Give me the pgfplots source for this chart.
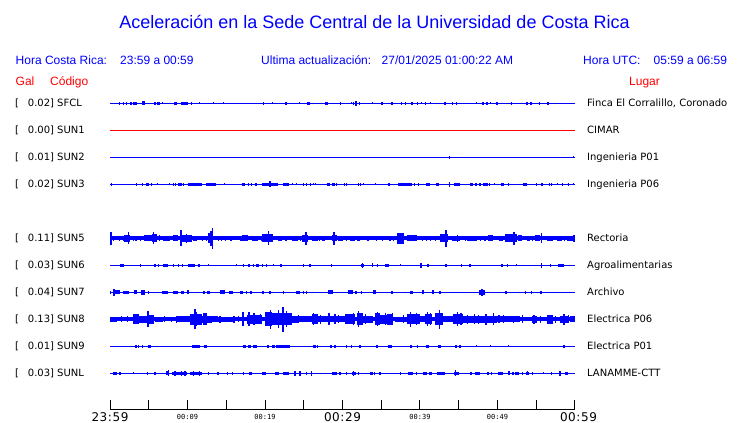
\documentclass[border=0pt]{standalone}
\usepackage{pgfplots}
\pgfplotsset{compat=1.18}
\usepackage{pgfplotstable}
\usepackage{fontspec}
\setmainfont{Liberation Sans}
\newfontfamily\dv{DejaVu Sans}
\newfontfamily\dvls[LetterSpace=5]{DejaVu Sans}
\newfontfamily\dvm{DejaVu Sans Mono}
\definecolor{tblue}{RGB}{0,0,255}
\definecolor{tred}{RGB}{255,0,0}

\pgfdeclareplotmark{fillsq}{%
  \pgfpathrectangle{\pgfpoint{-\pgfplotmarksize}{-\pgfplotmarksize}}{\pgfpoint{2\pgfplotmarksize}{2\pgfplotmarksize}}%
  \pgfusepathqfill}

% bursts: t = minutes after 23:59, w = half width (px), a = half amplitude (px)
\pgfplotstableread{
t w a
1.25 0.6 1.3
1.77 0.6 1.3
2.10 0.6 1.3
2.71 0.6 1.5
3.10 1.5 1.7
3.45 0.6 1.3
4.30 1.2 1.8
5.81 0.8 1.7
6.15 0.6 1.3
6.36 1.0 1.5
6.75 0.6 1.0
8.48 1.5 1.7
9.33 1.2 1.7
9.68 1.0 1.7
9.90 0.8 1.5
10.54 0.6 1.3
11.52 0.5 1.0
13.33 0.5 1.0
14.62 0.5 1.0
19.78 0.6 1.7
20.94 0.5 1.0
22.71 1.3 1.7
24.43 0.5 1.0
25.46 0.6 1.3
25.68 0.6 1.3
27.96 1.2 1.7
29.68 0.5 1.3
31.10 0.5 1.0
31.39 0.6 1.3
31.74 0.6 2.5
32.17 0.8 1.5
33.85 0.5 1.0
35.10 1.3 1.7
36.35 0.8 1.3
37.64 0.5 1.3
38.19 0.5 1.3
38.93 1.2 1.7
39.70 0.5 1.3
40.22 0.5 1.0
40.74 0.5 1.3
41.38 0.5 1.0
43.23 1.0 1.7
44.13 0.5 1.3
44.68 0.5 1.3
47.32 0.5 1.0
48.17 1.0 1.7
48.61 0.8 1.3
49.16 0.5 1.0
49.90 1.0 1.5
51.83 0.5 1.3
53.77 1.2 1.7
54.28 1.0 1.7
55.48 0.5 1.3
56.48 1.2 1.7
}\sfcl

\pgfplotstableread{
t w a
43.78 0.6 1.5
59.85 0.6 1.0
}\suntwo

\pgfplotstableread{
t w a
0.22 0.5 1.3
3.45 0.5 1.3
4.22 0.6 1.5
4.81 1.5 1.7
5.38 0.5 1.3
6.10 0.5 1.0
7.74 0.5 1.0
8.17 0.5 1.3
8.39 0.5 1.3
8.99 2.0 1.7
9.46 0.5 1.3
10.93 7.0 1.7
13.01 5.2 1.7
14.75 0.5 1.0
17.29 1.5 1.5
17.85 0.6 1.3
18.28 0.6 1.3
18.84 0.6 1.3
20.65 8.3 1.7
20.65 0.6 3.0
22.75 3.0 1.7
23.57 0.5 1.0
24.09 0.5 1.0
24.94 0.6 1.3
25.38 0.6 1.3
25.81 0.5 1.3
26.23 0.5 1.0
26.54 0.5 1.0
28.17 1.2 1.5
28.86 1.5 1.5
29.25 0.5 1.3
30.32 0.5 1.3
30.54 0.5 1.3
32.04 0.5 1.3
32.26 0.5 1.3
32.68 0.5 1.0
34.32 0.5 1.0
36.00 1.2 1.5
38.03 7.0 1.7
39.23 0.5 1.3
39.78 0.5 1.3
41.01 2.2 1.7
42.28 1.2 1.5
43.78 0.6 2.7
44.79 2.9 1.7
46.67 1.5 1.5
47.23 1.2 1.5
47.78 1.2 1.5
48.49 2.5 1.7
49.03 0.5 1.3
49.59 0.5 1.0
50.62 1.2 1.5
51.39 0.5 1.3
53.55 1.7 1.5
55.06 0.5 1.3
55.70 1.0 1.5
56.77 0.5 1.3
56.99 0.5 1.3
57.72 0.5 1.0
58.41 0.5 1.3
59.14 0.5 1.3
59.78 0.5 1.0
}\sunthree

\pgfplotstableread{
t w a
0.10 1.0 6.5
0.45 0.6 2.5
1.20 0.6 2.3
1.70 0.6 2.5
2.21 2.8 3.3
2.37 0.7 6.0
3.00 0.6 2.5
3.35 0.6 2.5
3.90 0.6 2.5
4.90 3.7 3.0
5.59 0.7 6.0
5.70 2.5 4.0
6.36 0.7 3.0
7.31 3.3 2.5
8.49 2.5 3.0
9.16 0.7 8.0
9.78 5.8 3.5
9.90 0.6 4.5
10.97 1.7 2.5
11.90 0.6 2.5
12.40 0.6 2.5
13.01 2.5 5.0
13.03 0.7 7.5
13.25 0.7 10.7
13.98 0.6 2.5
14.41 0.6 2.5
14.93 0.6 2.5
15.61 0.6 2.5
16.40 0.6 2.2
16.90 0.6 2.5
17.42 3.3 3.0
18.71 3.3 2.5
19.50 0.6 2.5
20.32 5.8 4.0
20.43 0.7 7.0
21.94 1.7 2.5
22.70 0.6 2.5
23.87 3.3 2.5
24.60 0.6 2.5
25.16 3.3 3.5
25.29 0.7 6.5
26.45 3.3 2.5
27.00 0.6 2.5
27.53 1.7 2.5
28.93 2.5 3.0
28.90 0.7 6.5
29.68 2.5 2.3
30.50 0.6 2.5
31.29 2.5 2.5
32.04 1.7 2.5
33.30 0.6 2.5
34.41 0.7 2.5
35.20 0.6 2.5
36.13 0.6 2.3
36.56 0.6 2.3
37.50 3.3 5.3
38.93 5.0 3.0
40.34 0.6 2.5
40.86 0.6 2.5
41.38 0.6 2.5
42.00 0.6 2.5
43.12 4.2 4.0
43.35 0.7 8.5
44.62 4.2 2.5
44.82 0.6 3.5
45.90 0.6 2.5
46.67 5.0 2.5
47.80 0.6 2.5
48.40 0.6 2.5
49.14 2.5 3.0
50.49 2.0 2.5
51.72 5.8 4.0
52.13 0.7 6.3
52.90 1.7 3.0
53.98 1.7 2.5
54.50 0.6 2.5
55.16 2.5 3.0
55.70 0.6 5.0
56.77 3.3 2.5
57.96 2.5 2.5
58.60 0.6 2.5
59.35 3.3 2.5
59.90 1.0 3.5
}\sunfive

\pgfplotstableread{
t w a
1.55 2.0 1.7
3.96 0.6 1.5
5.77 0.9 1.5
6.24 0.6 1.3
7.16 2.2 1.7
8.17 0.6 1.5
8.82 0.8 1.5
9.33 0.6 1.5
10.54 3.3 1.7
11.52 0.8 1.5
12.69 0.5 1.0
16.34 0.5 1.0
17.20 0.8 1.5
17.95 1.0 1.5
18.49 0.6 1.5
19.03 1.5 1.7
19.70 0.6 1.5
20.22 0.6 1.3
21.07 0.5 1.0
22.09 1.3 1.7
24.94 0.6 1.3
25.81 0.6 1.3
28.61 0.6 1.3
32.60 1.7 1.7
32.55 0.6 2.5
33.85 0.6 2.0
34.49 0.6 1.3
35.74 2.0 1.7
37.46 0.5 1.0
40.11 1.0 2.3
41.08 1.0 1.7
43.35 1.0 1.7
45.38 0.8 1.5
46.45 0.6 1.3
50.56 1.0 1.7
51.31 0.6 1.5
52.47 0.5 1.0
55.70 0.6 2.5
56.86 0.6 1.3
58.24 3.0 1.7
}\sunsix

\pgfplotstableread{
t w a
0.10 0.6 1.7
0.54 1.0 3.3
0.97 2.5 2.0
2.09 2.8 1.7
3.29 1.2 2.2
4.26 2.0 2.3
4.95 0.6 1.3
7.10 2.7 1.7
8.45 2.8 1.7
9.38 1.7 1.7
10.00 1.0 2.0
12.15 1.0 1.3
12.71 1.8 1.7
14.52 2.5 2.2
15.63 2.2 1.7
16.99 1.7 1.7
17.63 0.6 1.3
18.15 1.0 1.5
19.78 0.8 1.3
20.65 0.7 1.3
22.36 0.6 1.3
24.26 2.0 1.7
24.94 0.6 1.3
25.38 0.7 1.5
28.49 2.5 2.2
31.07 2.5 2.2
31.74 0.6 1.3
32.47 0.6 1.3
34.09 1.5 2.2
36.41 1.2 1.7
38.88 1.3 1.7
40.39 1.3 2.0
41.68 1.3 2.0
42.58 0.6 1.3
48.02 2.8 2.5
48.02 0.8 3.3
51.10 0.6 1.3
53.63 0.6 1.3
54.41 0.6 1.3
55.61 0.6 1.3
}\sunseven

\pgfplotstableread{
t w a
0.43 3.3 2.6
1.50 0.6 3.0
2.30 0.6 3.0
3.97 7.5 3.5
3.35 3.0 5.0
4.94 0.8 8.0
5.29 3.5 4.5
6.35 4.0 2.5
7.00 0.6 3.0
7.96 0.6 2.3
8.60 0.6 3.5
9.57 7.5 2.8
11.07 5.8 5.5
10.97 0.8 10.0
11.20 0.6 7.0
12.47 5.0 3.5
12.22 2.0 6.0
13.55 3.3 3.0
14.20 0.6 3.5
15.06 8.3 2.5
16.00 0.6 3.5
16.60 0.6 3.0
17.17 1.2 7.0
18.61 7.5 4.5
17.94 0.7 7.0
18.58 0.7 6.0
19.40 0.6 5.0
20.43 3.3 7.0
20.73 0.7 9.5
21.20 0.6 5.0
22.15 10.0 6.0
22.36 0.8 12.5
21.72 0.7 9.0
22.80 0.7 8.0
23.30 0.6 6.0
23.87 3.3 3.5
24.30 0.6 4.0
25.16 6.7 3.0
26.23 0.7 6.0
26.45 3.3 5.0
27.20 0.6 4.5
28.17 10.0 3.0
28.26 0.7 6.0
29.03 0.7 5.0
29.50 0.6 4.0
29.89 3.3 3.0
30.00 2.5 3.0
30.97 5.0 5.0
31.40 0.6 6.0
32.26 3.3 6.0
32.04 0.7 8.0
33.00 0.6 5.0
33.33 5.0 3.5
34.52 2.5 6.0
34.49 0.7 7.0
35.27 3.3 4.5
35.60 0.6 6.0
36.13 3.3 5.5
36.50 0.6 6.0
37.52 5.8 2.5
37.90 0.6 4.0
39.14 6.7 5.0
38.80 0.7 7.5
39.60 0.6 6.0
40.32 2.5 3.0
41.08 3.3 5.0
40.94 0.7 7.0
41.40 0.6 6.0
42.47 4.2 6.0
42.49 0.7 9.5
42.90 0.6 5.0
43.66 5.0 3.0
44.95 5.0 5.0
44.82 0.7 7.0
45.30 0.6 6.0
46.24 5.0 3.5
46.10 0.6 4.5
47.00 0.6 5.0
47.60 0.6 4.5
48.39 11.7 3.5
48.52 0.7 5.5
49.46 0.7 6.0
50.20 0.6 4.0
51.40 11.7 3.0
50.75 0.6 4.0
52.04 0.6 3.5
53.20 0.6 4.0
54.73 2.5 3.5
54.71 0.6 4.5
55.50 0.6 3.5
56.77 3.3 4.5
57.50 0.6 3.5
58.60 4.2 3.5
58.58 0.7 5.5
59.20 0.6 4.0
59.68 2.5 3.0
}\suneight

\pgfplotstableread{
t w a
3.33 1.0 1.5
3.66 0.6 1.3
4.17 0.6 1.3
5.05 1.5 1.7
11.07 4.2 1.7
12.30 1.3 1.7
17.35 1.2 1.7
18.00 1.2 1.7
18.71 1.7 1.7
20.36 1.2 1.7
21.07 1.7 1.7
22.30 7.2 1.7
26.39 1.2 1.7
26.80 0.7 1.5
28.49 1.0 1.7
29.03 0.7 1.5
30.54 0.6 1.3
31.18 0.6 1.3
32.26 1.0 1.7
34.47 1.2 1.7
36.13 1.7 1.7
38.82 1.0 1.7
39.66 0.6 1.3
40.99 1.7 1.7
42.52 1.2 1.7
44.65 0.7 1.5
45.16 0.6 1.3
47.31 0.5 1.0
49.12 0.5 1.0
51.48 0.5 1.0
58.58 0.6 1.3
}\sunnine

\pgfplotstableread{
t w a
0.65 1.7 1.7
1.29 0.6 1.5
3.00 0.5 1.0
4.86 0.6 1.3
5.81 0.6 1.3
7.44 1.7 2.2
7.50 0.6 3.0
8.93 7.5 1.7
8.39 0.6 2.5
9.25 0.6 2.5
9.68 0.6 2.5
11.07 5.8 1.7
10.75 0.6 2.3
11.52 0.6 2.3
12.69 0.6 1.3
13.91 1.2 1.7
15.18 0.6 1.3
15.78 0.6 1.3
17.20 0.6 1.3
18.11 1.3 1.7
19.87 1.7 1.7
21.55 2.0 1.7
22.75 3.0 1.7
23.87 0.6 2.7
24.52 0.6 2.5
25.38 0.6 1.3
26.02 0.8 2.3
28.93 2.5 1.7
29.68 0.6 1.3
30.54 0.6 1.3
31.48 1.7 1.7
31.45 0.6 2.7
32.04 0.6 1.3
33.76 1.7 1.5
34.11 0.6 1.3
34.84 0.6 1.3
37.50 0.6 1.3
38.77 2.2 1.7
39.57 0.6 1.3
40.65 1.7 1.7
41.35 1.2 1.7
42.69 4.2 1.7
44.73 2.7 1.7
44.60 0.6 2.8
46.56 1.0 1.5
47.42 2.5 1.7
48.77 1.3 1.7
49.25 0.6 1.3
50.39 2.2 1.7
51.48 0.6 2.0
51.94 1.0 1.5
52.54 2.2 1.7
53.25 0.6 1.3
53.87 1.5 1.7
53.90 0.6 2.2
54.54 0.6 1.3
55.91 0.5 1.0
56.99 0.6 1.3
58.06 0.6 2.3
58.93 1.7 1.7
}\sunl

\pgfplotsset{
  burst/.style={
    color=tblue, fill=tblue,
    scatter, only marks, mark=fillsq, mark size=1bp,
    point meta=\thisrow{a}, point meta min=0, point meta max=20,
    scatter/use mapped color={draw=tblue, fill=tblue},
    visualization depends on={\thisrow{w} \as \bw},
    visualization depends on={\thisrow{a} \as \ba},
    scatter/@pre marker code/.append style={/tikz/xscale=\bw, /tikz/yscale=\ba},
  },
}

\newcommand\rowlab[4]{%
  \node[anchor=base west, inner sep=0pt, font=\dv\fontsize{10bp}{12bp}\selectfont] at (15bp,#1bp) {[};
  \node[anchor=base west, inner sep=0pt, font=\dv\fontsize{10bp}{12bp}\selectfont] at (27.7bp,#1bp) {#2] #3};
  \node[anchor=base west, inner sep=0pt, font=\dv\fontsize{10bp}{12bp}\selectfont] at (587bp,#1bp) {#4};
}
\newcommand\bigt[1]{{\dvls\fontsize{12bp}{12bp}\selectfont #1}}
\newcommand\smt[1]{\raisebox{1.5bp}{\dvm\fontsize{7bp}{7bp}\selectfont #1}}

\begin{document}
\begin{tikzpicture}
\useasboundingbox (0,0) rectangle (740bp,423bp);
\fill[white] (0,0) rectangle (740bp,423bp);
% title and header
\node[anchor=base, inner sep=0pt, text=tblue, font=\fontsize{18bp}{20bp}\selectfont] at (374.5bp,394bp) {Aceleración en la Sede Central de la Universidad de Costa Rica};
\begin{scope}[every node/.style={anchor=base west, inner sep=0pt, text=tblue, font=\fontsize{12bp}{14bp}\selectfont}]
\node at (15.5bp,358.5bp) {Hora Costa Rica:};
\node at (120bp,358.5bp) {23:59 a 00:59};
\node at (261bp,358.5bp) {Ultima actualización:};
\node at (381.5bp,358.5bp) {27/01/2025 01:00:22 AM};
\node at (583bp,358.5bp) {Hora UTC:};
\node at (653.5bp,358.5bp) {05:59 a 06:59};
\end{scope}
\begin{scope}[every node/.style={anchor=base west, inner sep=0pt, text=tred, font=\fontsize{12bp}{14bp}\selectfont}]
\node at (15.5bp,337.5bp) {Gal};
\node at (50bp,337.5bp) {Código};
\node at (629bp,337.5bp) {Lugar};
\end{scope}
% row labels
\rowlab{316.7}{0.02}{SFCL}{Finca El Corralillo, Coronado}
\rowlab{289.7}{0.00}{SUN1}{CIMAR}
\rowlab{262.7}{0.01}{SUN2}{Ingenieria P01}
\rowlab{235.7}{0.02}{SUN3}{Ingenieria P06}
\rowlab{181.7}{0.11}{SUN5}{Rectoria}
\rowlab{154.7}{0.03}{SUN6}{Agroalimentarias}
\rowlab{127.7}{0.04}{SUN7}{Archivo}
\rowlab{100.7}{0.13}{SUN8}{Electrica P06}
\rowlab{73.7}{0.01}{SUN9}{Electrica P01}
\rowlab{46.7}{0.03}{SUNL}{LANAMME-CTT}

\begin{axis}[
  at={(110bp,14bp)}, anchor=south west,
  scale only axis, width=465bp, height=319bp,
  xmin=0, xmax=60, ymin=-409, ymax=-90,
  clip=false,
  axis x line=bottom, axis y line=none,
  x axis line style={-, line width=1bp, black},
  xtick={0,5,...,60}, xtick align=inside, major tick length=9bp,
  every tick/.style={black, line width=1bp},
  xticklabels={\bigt{23:59}\hspace{10bp}, , \smt{00:09}, , \smt{00:19}, , \bigt{00:29}, , \smt{00:39}, , \smt{00:49}, , \hspace{7bp}\bigt{00:59}},
  xticklabel style={anchor=base, yshift=-12bp, inner sep=0pt},
]
% baselines
\addplot[tblue, line width=1bp] coordinates {(0,-103.3) (60,-103.3)};
\addplot[tred, line width=1bp] coordinates {(0,-130.3) (60,-130.3)};
\addplot[tblue, line width=1bp] coordinates {(0,-157.3) (60,-157.3)};
\addplot[tblue, line width=1bp] coordinates {(0,-184.3) (60,-184.3)};
\addplot[tblue, line width=3.7bp] coordinates {(0,-238.3) (60,-238.3)};
\addplot[tblue, line width=1bp] coordinates {(0,-265.3) (60,-265.3)};
\addplot[tblue, line width=1bp] coordinates {(0,-292.3) (60,-292.3)};
\addplot[tblue, line width=3.7bp] coordinates {(0,-319.3) (60,-319.3)};
\addplot[tblue, line width=1bp] coordinates {(0,-346.3) (60,-346.3)};
\addplot[tblue, line width=1bp] coordinates {(0,-373.3) (60,-373.3)};
% bursts
\addplot[burst] table[x=t, y expr=-103.3] {\sfcl};
\addplot[burst] table[x=t, y expr=-157.3] {\suntwo};
\addplot[burst] table[x=t, y expr=-184.3] {\sunthree};
\addplot[burst] table[x=t, y expr=-238.3] {\sunfive};
\addplot[burst] table[x=t, y expr=-265.3] {\sunsix};
\addplot[burst] table[x=t, y expr=-292.3] {\sunseven};
\addplot[burst] table[x=t, y expr=-319.3] {\suneight};
\addplot[burst] table[x=t, y expr=-346.3] {\sunnine};
\addplot[burst] table[x=t, y expr=-373.3] {\sunl};
\end{axis}
\end{tikzpicture}
\end{document}
